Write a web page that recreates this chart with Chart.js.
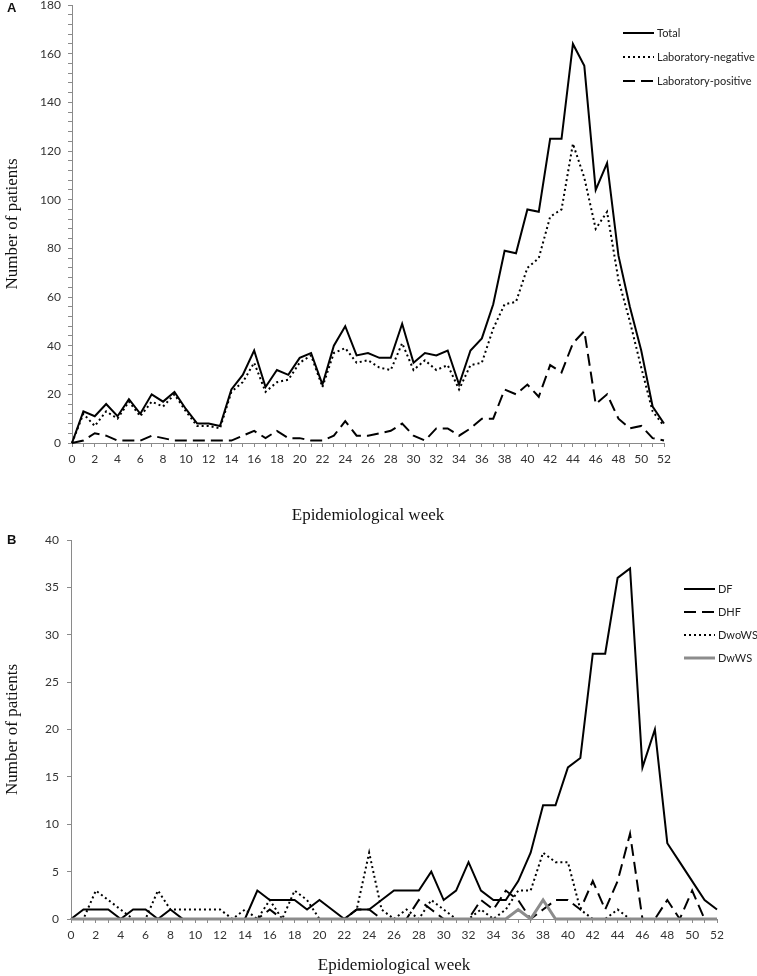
<!DOCTYPE html>
<html>
<head>
<meta charset="utf-8">
<script src="https://cdn.jsdelivr.net/npm/chart.js@4.4.1/dist/chart.umd.min.js"></script>
<style>
html, body { margin: 0; padding: 0; background: #fff; }
#wrap { position: relative; width: 757px; height: 976px; }
.panel { position: absolute; left: 0; width: 757px; }
#boxA { top: 0; height: 530px; }
#boxB { top: 530px; height: 446px; }
.tag { position: absolute; font: bold 13px "Liberation Sans", Arial, sans-serif; line-height: 13px; color: #111; }
</style>
</head>
<body>
<div id="wrap">
    <div class="panel" id="boxA"><canvas id="chartA" width="757" height="530"></canvas></div>
    <div class="panel" id="boxB"><canvas id="chartB" width="757" height="446"></canvas></div>
    <div class="tag" style="left:7px;top:1px">A</div>
    <div class="tag" style="left:7px;top:533px">B</div>
</div>
<script>
const weeks = [0, 1, 2, 3, 4, 5, 6, 7, 8, 9, 10, 11, 12, 13, 14, 15, 16, 17, 18, 19, 20,
    21, 22, 23, 24, 25, 26, 27, 28, 29, 30, 31, 32, 33, 34, 35, 36, 37, 38, 39, 40,
    41, 42, 43, 44, 45, 46, 47, 48, 49, 50, 51, 52];

// panel A
const total = [0, 13, 11, 16, 11, 18, 12, 20, 17, 21, 14, 8, 8, 7, 22, 28, 38, 23, 30, 28,
    35, 37, 24, 40, 48, 36, 37, 35, 35, 49, 33, 37, 36, 38, 24, 38, 43, 57, 79, 78,
    96, 95, 125, 125, 164, 155, 104, 115, 77, 56, 38, 15, 8];
const labNegative = [0, 12, 7, 13, 10, 17, 11, 17, 15, 20, 13, 7, 7, 6, 21, 25, 33, 21, 25, 26,
    33, 36, 23, 37, 39, 33, 34, 31, 30, 41, 30, 34, 30, 32, 22, 32, 33, 47, 57, 58,
    72, 76, 93, 96, 123, 109, 88, 95, 67, 50, 31, 13, 7];
const labPositive = [0, 1, 4, 3, 1, 1, 1, 3, 2, 1, 1, 1, 1, 1, 1, 3, 5, 2, 5, 2,
    2, 1, 1, 3, 9, 3, 3, 4, 5, 8, 3, 1, 6, 6, 3, 6, 10, 10, 22, 20,
    24, 19, 32, 29, 41, 46, 16, 20, 10, 6, 7, 2, 1];

// panel B
const df = [0, 1, 1, 1, 0, 1, 1, 0, 1, 0, 0, 0, 0, 0, 0, 3, 2, 2, 2, 1,
    2, 1, 0, 1, 1, 2, 3, 3, 3, 5, 2, 3, 6, 3, 2, 2, 4, 7, 12, 12,
    16, 17, 28, 28, 36, 37, 16, 20, 8, 6, 4, 2, 1];
const dhf = [0, 0, 0, 0, 0, 0, 0, 0, 0, 0, 0, 0, 0, 0, 0, 0, 1, 0, 0, 0,
    0, 0, 0, 1, 1, 0, 0, 0, 2, 1, 0, 0, 0, 2, 1, 3, 2, 0, 1, 2,
    2, 1, 4, 1, 4, 9, 0, 0, 2, 0, 3, 0, 0];
const dwows = [0, 0, 3, 2, 1, 0, 0, 3, 1, 1, 1, 1, 1, 0, 1, 0, 2, 0, 3, 2,
    0, 0, 0, 1, 7, 1, 0, 1, 0, 2, 1, 0, 0, 1, 0, 1, 3, 3, 7, 6,
    6, 1, 0, 0, 1, 0, 0, 0, 0, 0, 0, 0, 0];
const dwws = [0, 0, 0, 0, 0, 0, 0, 0, 0, 0, 0, 0, 0, 0, 0, 0, 0, 0, 0, 0,
    0, 0, 0, 0, 0, 0, 0, 0, 0, 0, 0, 0, 0, 0, 0, 0, 1, 0, 2, 0,
    0, 0, 0, 0, 0, 0, 0, 0, 0, 0, 0, 0, 0];

const TICK_FONT = { family: 'Lato', size: 12 };
const TITLE_FONT = { family: 'Liberation Serif', size: 17 };
const AXIS_GREY = '#8a8a8a';

function points(values) {
    return weeks.map((w, i) => ({ x: w, y: values[i] }));
}

function line(label, values, dash, color = '#000', width = 2, order = 0) {
    return {
        label: label,
        data: points(values),
        borderColor: color,
        backgroundColor: 'transparent',
        borderWidth: width,
        borderDash: dash,
        pointRadius: 0,
        tension: 0,
        clip: false,
        order: order
    };
}

// small legend drawn as line samples next to the labels
const legendLines = {
    id: 'legendLines',
    afterDatasetsDraw(chart, args, opts) {
        const ctx = chart.ctx;
        ctx.save();
        chart.data.datasets.forEach((ds, i) => {
            const y = opts.top + i * opts.gap;
            ctx.beginPath();
            ctx.setLineDash(ds.borderDash || []);
            ctx.lineWidth = ds.borderWidth;
            ctx.strokeStyle = ds.borderColor;
            ctx.moveTo(opts.left, y);
            ctx.lineTo(opts.left + opts.width, y);
            ctx.stroke();
            ctx.setLineDash([]);
            ctx.fillStyle = '#222';
            ctx.font = '11px Lato';
            ctx.textBaseline = 'middle';
            ctx.fillText(ds.label, opts.left + opts.width + 3, y);
        });
        ctx.restore();
    }
};

function xAxis(height, titlePad) {
    return {
        type: 'linear',
        min: 0,
        max: 52,
        ticks: {
            stepSize: 1,
            autoSkip: false,
            maxRotation: 0,
            padding: 5,
            color: '#333',
            font: TICK_FONT,
            callback: v => (v % 2 === 0 ? v : '')
        },
        grid: { drawOnChartArea: false, drawTicks: true, tickLength: 4, color: AXIS_GREY },
        border: { display: true, color: AXIS_GREY },
        title: {
            display: true,
            text: 'Epidemiological week',
            color: '#111',
            font: TITLE_FONT,
            padding: { top: 0, bottom: titlePad }
        },
        afterFit: s => { s.height = height; }
    };
}

function yAxis(max, step, labelEvery, width, pad) {
    return {
        type: 'linear',
        min: 0,
        max: max,
        ticks: {
            stepSize: step,
            autoSkip: false,
            padding: pad,
            color: '#333',
            font: TICK_FONT,
            callback: v => (v % labelEvery === 0 ? v : '')
        },
        grid: { drawOnChartArea: false, drawTicks: true, tickLength: 4, color: AXIS_GREY },
        border: { display: true, color: AXIS_GREY },
        title: {
            display: true,
            text: 'Number of patients',
            color: '#111',
            font: TITLE_FONT,
            padding: { top: 2, bottom: 0 }
        },
        afterFit: s => { s.width = width; s.paddingTop = 0; s.paddingBottom = 0; }
    };
}

new Chart(document.getElementById('chartA'), {
    type: 'line',
    data: {
        datasets: [
            line('Total', total, []),
            line('Laboratory-negative', labNegative, [2, 3]),
            line('Laboratory-positive', labPositive, [12, 6])
        ]
    },
    options: {
        responsive: false,
        animation: false,
        layout: { padding: { top: 5, right: 93, left: 0, bottom: 0 } },
        plugins: {
            legend: { display: false },
            tooltip: { enabled: false },
            legendLines: { left: 623, top: 33, gap: 24, width: 31 }
        },
        scales: {
            x: xAxis(87, 4),
            y: yAxis(180, 4, 20, 72, 7)
        }
    },
    plugins: [legendLines]
});

new Chart(document.getElementById('chartB'), {
    type: 'line',
    data: {
        datasets: [
            line('DF', df, []),
            line('DHF', dhf, [12, 6]),
            line('DwoWS', dwows, [2, 3]),
            // grey series sits on top of the others along the zero line
            line('DwWS', dwws, [], '#8c8c8c', 3, -1)
        ]
    },
    options: {
        responsive: false,
        animation: false,
        layout: { padding: { top: 10, right: 40, left: 0, bottom: 0 } },
        plugins: {
            legend: { display: false },
            tooltip: { enabled: false },
            legendLines: { left: 684, top: 59, gap: 23, width: 31 }
        },
        scales: {
            x: xAxis(57, 0),
            y: yAxis(40, 5, 5, 71, 8)
        }
    },
    plugins: [legendLines]
});
</script>
</body>
</html>
